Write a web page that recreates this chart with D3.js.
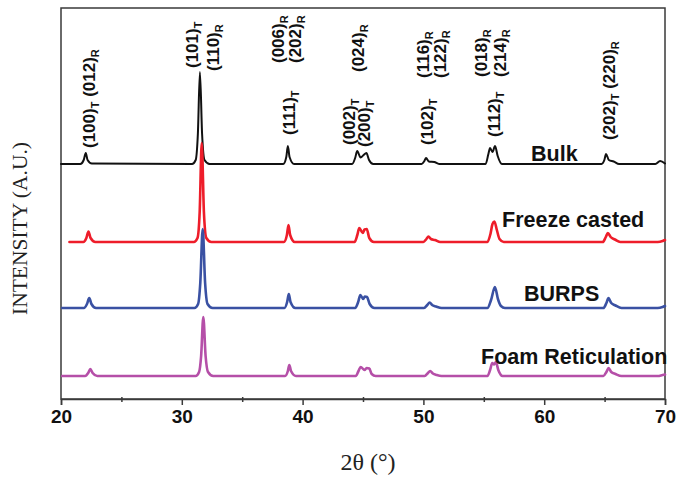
<!DOCTYPE html>
<html>
<head>
<meta charset="utf-8">
<script src="https://cdn.jsdelivr.net/npm/d3@7"></script>
<style>
  html, body { margin: 0; padding: 0; background: #fff; }
  svg { display: block; }
</style>
</head>
<body>
<svg id="chart" width="678" height="477"></svg>
<script>
// ---------------- DATA ----------------
const seriesNames = ["Bulk", "Freeze casted", "BURPS", "Foam Reticulation"];
const seriesColors = ["#111111", "#ee1d2a", "#3a51a3", "#b54fa8"];
// vertical stacking offsets (a.u.)
const seriesOffsets = [235, 157, 91, 23];

// [2θ, intensity above own baseline]
const bulkPattern = [
  [20.0,0],[21.6,0],[21.88,4],[22.05,11],[22.2,4],[22.55,0.5],
  [30.85,0],[31.15,4],[31.33,30],[31.5,92],[31.68,30],[31.88,4],[32.3,0],
  [38.4,0],[38.65,7],[38.78,18],[38.92,7],[39.3,0],
  [44.1,0],[44.35,6],[44.52,13],[44.8,6.5],[45.05,9],[45.28,11],[45.5,4],[45.85,0],
  [49.85,0],[50.08,3],[50.22,6],[50.45,2.5],[50.9,2],[51.3,0],
  [55.15,0],[55.38,10],[55.52,16],[55.72,12],[55.93,18],[56.15,8],[56.5,0],
  [64.75,0],[64.98,4],[65.12,10],[65.35,4],[65.75,2.5],[66.2,0],
  [69.2,0],[69.6,3],[70.0,0.5]
];
const freezePattern = [
  [20.7,0],[21.85,0],[22.1,4],[22.27,10.5],[22.45,4],[22.85,0],
  [31.0,0],[31.3,4],[31.48,30],[31.65,99],[31.83,30],[32.03,4],[32.45,0],
  [38.45,0],[38.7,7],[38.83,17],[38.97,7],[39.35,0],
  [44.3,0],[44.53,7],[44.69,14],[44.98,9],[45.13,12.5],[45.31,13],[45.52,4],[45.9,0],
  [50.0,0],[50.25,3],[50.42,5.5],[50.62,3],[50.95,2],[51.4,0],
  [55.3,0],[55.55,8],[55.72,18],[55.88,20.5],[56.08,12],[56.3,3],[56.65,0],
  [64.85,0],[65.1,5],[65.27,9],[65.5,5],[65.85,2.5],[66.3,0],
  [69.4,0],[69.8,1],[70.0,2]
];
const burpsPattern = [
  [20.1,0],[21.9,0],[22.15,4],[22.34,10],[22.52,4],[22.9,0],
  [31.05,0],[31.35,4],[31.53,25],[31.73,79],[31.93,25],[32.13,4],[32.55,0],
  [38.5,0],[38.72,6],[38.86,14],[39.0,6],[39.4,0],
  [44.35,0],[44.6,6],[44.78,13],[45.02,9],[45.15,11.5],[45.33,11],[45.55,4],[45.95,0],
  [50.05,0],[50.32,3],[50.52,5.5],[50.72,3],[51.05,1.5],[51.5,0],
  [55.3,0],[55.6,8],[55.92,21],[56.17,9],[56.42,2],[56.75,0],
  [64.9,0],[65.15,5],[65.32,10],[65.55,5],[65.9,2.5],[66.4,0],
  [69.4,0],[69.8,1],[70.0,2]
];
const foamPattern = [
  [20.1,0],[22.0,0],[22.25,3],[22.43,7],[22.62,3],[23.0,0],
  [31.15,0],[31.43,4],[31.6,20],[31.78,59],[31.97,20],[32.17,4],[32.6,0],
  [38.55,0],[38.78,5],[38.9,11],[39.04,5],[39.45,0],
  [44.4,0],[44.63,5],[44.81,9],[45.13,6],[45.3,8],[45.52,7.5],[45.72,2],[46.05,0],
  [50.1,0],[50.38,3],[50.56,5],[50.78,2.5],[51.1,1],[51.5,0],
  [55.3,0],[55.52,6],[55.7,13],[55.85,11.5],[56.0,14],[56.2,6],[56.55,0],
  [64.9,0],[65.15,4],[65.33,8],[65.55,4],[65.9,2],[66.4,0],
  [69.4,0],[69.8,1],[70.0,1.5]
];
const patterns = [bulkPattern, freezePattern, burpsPattern, foamPattern];

// x-axis ticks
const xMajorTicks = [20, 30, 40, 50, 60, 70];
const xMinorTicks = [25, 35, 45, 55, 65];
const xTitle = "2θ (°)";
const yTitle = "INTENSITY (A.U.)";

// reflection labels: list of [index, subscript] pairs
const reflectionLabels = [
  [["(100)","T"],[" (012)","R"]],
  [["(101)","T"]],
  [["(110)","R"]],
  [["(006)","R"]],
  [["(202)","R"]],
  [["(111)","T"]],
  [["(024)","R"]],
  [["(002)","T"]],
  [["(200)","T"]],
  [["(116)","R"]],
  [["(122)","R"]],
  [["(102)","T"]],
  [["(018)","R"]],
  [["(214)","R"]],
  [["(112)","T"]],
  [["(202)","T"],[" (220)","R"]]
];

// ---------------- LAYOUT ----------------
const plot = { left: 61, right: 665, top: 8, bottom: 399 };

const svg = d3.select("#chart");
const x = d3.scaleLinear().domain([20, 70]).range([plot.left, plot.right]);
const y = d3.scaleLinear().domain([0, 391]).range([plot.bottom, plot.top]);

// label anchor positions: [2θ of text baseline, bottom pixel y of text]
const labelAnchors = [
  [22.78,148],[31.3,68],[33.12,71],[38.5,63],[39.9,63],[39.33,135],
  [45.12,72],[44.3,145],[45.55,147],[50.5,78],[51.83,78],[50.76,145],
  [55.3,77],[56.8,77],[56.3,137],[65.83,140]
];
// series name label positions [x px, baseline y px]
const nameAnchors = [[531,161],[502,227],[524,301],[481,364]];

// frame
svg.append("rect")
  .attr("x", plot.left).attr("y", plot.top)
  .attr("width", plot.right - plot.left).attr("height", plot.bottom - plot.top)
  .attr("fill", "none").attr("stroke", "#3a3a3a").attr("stroke-width", 1.5);

// x axis (major)
const gx = svg.append("g")
  .attr("transform", `translate(0,${plot.bottom})`)
  .call(d3.axisBottom(x).tickValues(xMajorTicks).tickSize(6).tickPadding(5)
    .tickFormat(d3.format("d")));
gx.select(".domain").attr("stroke", "#3a3a3a").attr("stroke-width", 1.5);
gx.selectAll(".tick line").attr("stroke", "#3a3a3a").attr("stroke-width", 1.5);
gx.selectAll(".tick text")
  .attr("fill", "#111")
  .style("font-family", "'Liberation Sans', Arial, sans-serif")
  .style("font-weight", "bold")
  .style("font-size", "19px");

// minor ticks
const gxm = svg.append("g")
  .attr("transform", `translate(0,${plot.bottom - 2})`)
  .call(d3.axisBottom(x).tickValues(xMinorTicks).tickSize(5).tickFormat(""));
gxm.select(".domain").remove();
gxm.selectAll(".tick line").attr("stroke", "#3a3a3a").attr("stroke-width", 1.5);
gxm.selectAll(".tick text").remove();

// axis titles
svg.append("text")
  .attr("x", (plot.left + plot.right) / 2 + 5).attr("y", 470)
  .attr("text-anchor", "middle")
  .style("font-family", "'Liberation Serif', 'Times New Roman', serif")
  .style("font-size", "24px").attr("fill", "#222")
  .text(xTitle);

svg.append("text")
  .attr("transform", `translate(27,${(plot.top + plot.bottom) / 2 + 25}) rotate(-90)`)
  .attr("text-anchor", "middle")
  .style("font-family", "'Liberation Serif', 'Times New Roman', serif")
  .style("font-size", "21.5px").attr("fill", "#222")
  .text(yTitle);

// patterns
const line = d3.line()
  .x(d => x(d[0]))
  .curve(d3.curveMonotoneX);

patterns.forEach((pat, i) => {
  svg.append("path")
    .datum(pat)
    .attr("d", line.y(d => y(d[1] + seriesOffsets[i])))
    .attr("fill", "none")
    .attr("stroke", seriesColors[i])
    .attr("stroke-width", i === 0 ? 2 : 2.6)
    .attr("stroke-linejoin", "round")
    .attr("stroke-linecap", "round");
});

// series names
seriesNames.forEach((n, i) => {
  svg.append("text")
    .attr("x", nameAnchors[i][0]).attr("y", nameAnchors[i][1])
    .style("font-family", "'Liberation Sans', Arial, sans-serif")
    .style("font-weight", "bold").style("font-size", "21.5px")
    .attr("fill", "#111")
    .text(n);
});

// reflection labels (rotated)
reflectionLabels.forEach((parts, i) => {
  const [th, yb] = labelAnchors[i];
  const t = svg.append("text")
    .attr("transform", `translate(${x(th)},${yb}) rotate(-90)`)
    .style("font-family", "'Liberation Sans', Arial, sans-serif")
    .style("font-weight", "bold").style("font-size", "17px")
    .attr("fill", "#111");
  parts.forEach(([main, sub], k) => {
    t.append("tspan").attr("dy", k === 0 ? 0 : -4).text(main);
    t.append("tspan").attr("dy", 4).style("font-size", "11px").text(sub);
  });
});
</script>
</body>
</html>
